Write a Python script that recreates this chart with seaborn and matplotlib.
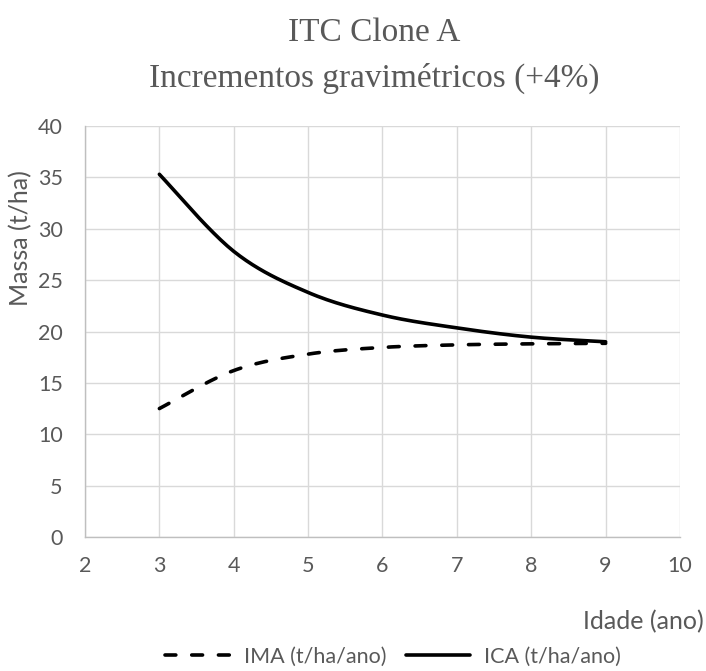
import numpy as np
import pandas as pd
import matplotlib
matplotlib.use("Agg")
import matplotlib.pyplot as plt
import seaborn as sns

# Idade (anos) e incrementos de massa
idade = [3, 4, 5, 6, 7, 8, 9]
ima = [12.5, 16.2, 17.8, 18.45, 18.7, 18.8, 18.85]
ica = [35.3, 27.8, 23.8, 21.6, 20.35, 19.45, 19.0]
series_names = ["IMA (t/ha/ano)", "ICA (t/ha/ano)"]
x_ticks = [2, 3, 4, 5, 6, 7, 8, 9, 10]
y_ticks = [0, 5, 10, 15, 20, 25, 30, 35, 40]

TEXT = "#595959"
GRID = "#d9d9d9"
FS = 15.5
FS_TITLE_AXIS = 18


def smooth_path(xs, ys, n=24):
    """Curva suavizada (Bezier cúbica por segmento) passando pelos pontos."""
    xs = np.asarray(xs, float)
    ys = np.asarray(ys, float)
    px = np.concatenate([[xs[0]], xs, [xs[-1]]])
    py = np.concatenate([[ys[0]], ys, [ys[-1]]])
    out_x, out_y = [], []
    t = np.linspace(0, 1, n, endpoint=False)
    for i in range(1, len(px) - 2):
        p0 = np.array([px[i], py[i]])
        p3 = np.array([px[i + 1], py[i + 1]])
        c1 = p0 + (np.array([px[i + 1], py[i + 1]]) - np.array([px[i - 1], py[i - 1]])) / 6
        c2 = p3 - (np.array([px[i + 2], py[i + 2]]) - np.array([px[i], py[i]])) / 6
        b = ((1 - t) ** 3)[:, None] * p0 + (3 * (1 - t) ** 2 * t)[:, None] * c1 \
            + (3 * (1 - t) * t ** 2)[:, None] * c2 + (t ** 3)[:, None] * p3
        out_x.extend(b[:, 0])
        out_y.extend(b[:, 1])
    out_x.append(xs[-1])
    out_y.append(ys[-1])
    return out_x, out_y


frames = []
for name, vals in zip(series_names, [ima, ica]):
    sx, sy = smooth_path(idade, vals)
    frames.append(pd.DataFrame({"Idade": sx, "Massa": sy, "Série": name}))
df = pd.concat(frames, ignore_index=True)

sns.set_theme(style="white")
plt.rcParams["font.family"] = ["Lato", "DejaVu Sans"]

fig = plt.figure(figsize=(7.06, 6.71), dpi=100)
ax = fig.add_axes([85 / 706, 1 - 537 / 671, 595 / 706, 411 / 671])

sns.lineplot(data=df, x="Idade", y="Massa", hue="Série", style="Série",
             palette={n: "black" for n in series_names},
             dashes={series_names[0]: (3.0, 4.4), series_names[1]: ""},
             sort=False, estimator=None, units="Série", linewidth=2.6,
             legend=False, ax=ax)
for line in ax.lines:
    line.set_dash_capstyle("round")
    line.set_solid_capstyle("round")

ax.set_xlim(2, 10)
ax.set_ylim(0, 40)
ax.set_xticks(x_ticks)
ax.set_yticks(y_ticks)
ax.grid(True, color=GRID, linewidth=1.0)
ax.set_axisbelow(True)
for side in ["top", "right"]:
    ax.spines[side].set_visible(False)
for side in ["left", "bottom"]:
    ax.spines[side].set_color("#bfbfbf")
    ax.spines[side].set_linewidth(1.0)
ax.tick_params(axis="both", length=0, labelsize=FS, colors=TEXT)
ax.tick_params(axis="y", pad=16)
ax.tick_params(axis="x", pad=14)
ax.set_xlabel("")
ax.set_ylabel("")

fig.text(21 / 706, 1 - 238 / 671, "Massa (t/ha)", rotation=90, ha="center",
         va="center", fontsize=FS_TITLE_AXIS, color=TEXT)
fig.text(704 / 706, 1 - 622 / 671, "Idade (ano)", ha="right", va="center",
         fontsize=FS_TITLE_AXIS, color=TEXT)

fig.text(374 / 706, 1 - 33 / 671, "ITC Clone A", ha="center", va="center",
         fontsize=24, color=TEXT, family="Liberation Serif")
fig.text(374 / 706, 1 - 78 / 671, "Incrementos gravimétricos (+4%)", ha="center",
         va="center", fontsize=24, color=TEXT, family="Liberation Serif")

handles = ax.lines[:2]
leg = fig.legend(handles, series_names, loc="center",
                 bbox_to_anchor=(393 / 706, 1 - 657 / 671), ncol=2,
                 frameon=False, fontsize=FS, handlelength=3.0,
                 handletextpad=0.65, columnspacing=0.9, labelcolor=TEXT,
                 borderpad=0.0, borderaxespad=0.0)

fig.savefig("out.png", dpi=100, facecolor="white")
